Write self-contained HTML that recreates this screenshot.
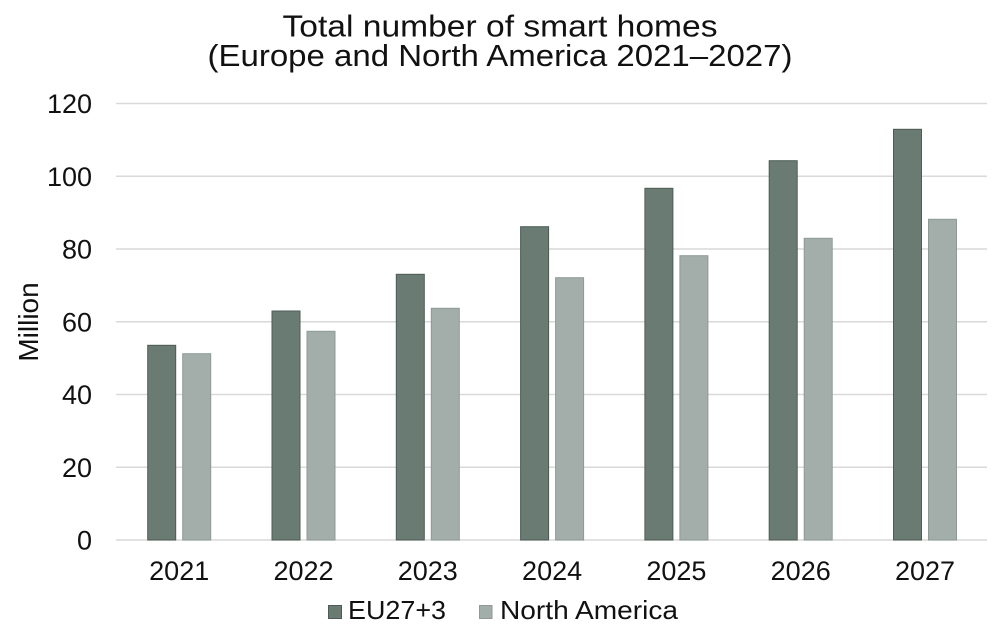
<!DOCTYPE html>
<html>
<head>
<meta charset="utf-8">
<style>
  html,body{margin:0;padding:0;background:#fff;}
  svg{display:block;}
  text{font-family:"Liberation Sans","DejaVu Sans",sans-serif;fill:#111;}
</style>
</head>
<body>
<svg width="1000" height="637" viewBox="0 0 1000 637" xmlns="http://www.w3.org/2000/svg">
  <rect width="1000" height="637" fill="#fff"/>
  <!-- Title -->
  <text x="500" y="36.5" font-size="31" text-anchor="middle" textLength="435" lengthAdjust="spacingAndGlyphs">Total number of smart homes</text>
  <text x="500" y="66" font-size="31" text-anchor="middle" textLength="585" lengthAdjust="spacingAndGlyphs">(Europe and North America 2021–2027)</text>

  <!-- Gridlines -->
  <g stroke="#d9d9d9" stroke-width="1.5">
    <line x1="116" x2="987" y1="103.5" y2="103.5"/>
    <line x1="116" x2="987" y1="176.3" y2="176.3"/>
    <line x1="116" x2="987" y1="249" y2="249"/>
    <line x1="116" x2="987" y1="321.8" y2="321.8"/>
    <line x1="116" x2="987" y1="394.5" y2="394.5"/>
    <line x1="116" x2="987" y1="467.3" y2="467.3"/>
    <line x1="116" x2="987" y1="540" y2="540"/>
  </g>

  <!-- Y tick labels -->
  <g font-size="27" text-anchor="end">
    <text x="92" y="113">120</text>
    <text x="92" y="185.8">100</text>
    <text x="92" y="258.5">80</text>
    <text x="92" y="331.3">60</text>
    <text x="92" y="404">40</text>
    <text x="92" y="476.8">20</text>
    <text x="92" y="549.5">0</text>
  </g>

  <!-- Y axis title -->
  <text transform="translate(38,322) rotate(-90)" font-size="28" text-anchor="middle">Million</text>

  <!-- EU bars -->
  <g fill="#6a7b74" stroke="#4d5c55" stroke-width="1">
    <rect x="147.7" y="345.3" width="28" height="194.7"/>
    <rect x="272" y="311" width="28" height="229"/>
    <rect x="396.3" y="274.3" width="28" height="265.7"/>
    <rect x="520.6" y="226.7" width="28" height="313.3"/>
    <rect x="644.9" y="188.3" width="28" height="351.7"/>
    <rect x="769.2" y="160.7" width="28" height="379.3"/>
    <rect x="893.5" y="129.3" width="28" height="410.7"/>
  </g>
  <!-- North America bars -->
  <g fill="#a3aeaa" stroke="#8e9a95" stroke-width="1">
    <rect x="182.7" y="353.7" width="28" height="186.3"/>
    <rect x="307" y="331.3" width="28" height="208.7"/>
    <rect x="431.3" y="308.3" width="28" height="231.7"/>
    <rect x="555.6" y="277.7" width="28" height="262.3"/>
    <rect x="679.9" y="255.7" width="28" height="284.3"/>
    <rect x="804.2" y="238.3" width="28" height="301.7"/>
    <rect x="928.5" y="219.3" width="28" height="320.7"/>
  </g>

  <!-- X labels -->
  <g font-size="27" text-anchor="middle">
    <text x="179.2" y="580">2021</text>
    <text x="303.5" y="580">2022</text>
    <text x="427.8" y="580">2023</text>
    <text x="552.1" y="580">2024</text>
    <text x="676.4" y="580">2025</text>
    <text x="800.7" y="580">2026</text>
    <text x="925" y="580">2027</text>
  </g>

  <!-- Legend -->
  <rect x="328.5" y="605.5" width="13" height="13" fill="#6a7b74" stroke="#4d5c55" stroke-width="1"/>
  <text x="348" y="619" font-size="26" textLength="98" lengthAdjust="spacingAndGlyphs">EU27+3</text>
  <rect x="479.5" y="605.5" width="12.5" height="13" fill="#a3aeaa" stroke="#8e9a95" stroke-width="1"/>
  <text x="500" y="619" font-size="26" textLength="178" lengthAdjust="spacingAndGlyphs">North America</text>
</svg>
</body>
</html>
